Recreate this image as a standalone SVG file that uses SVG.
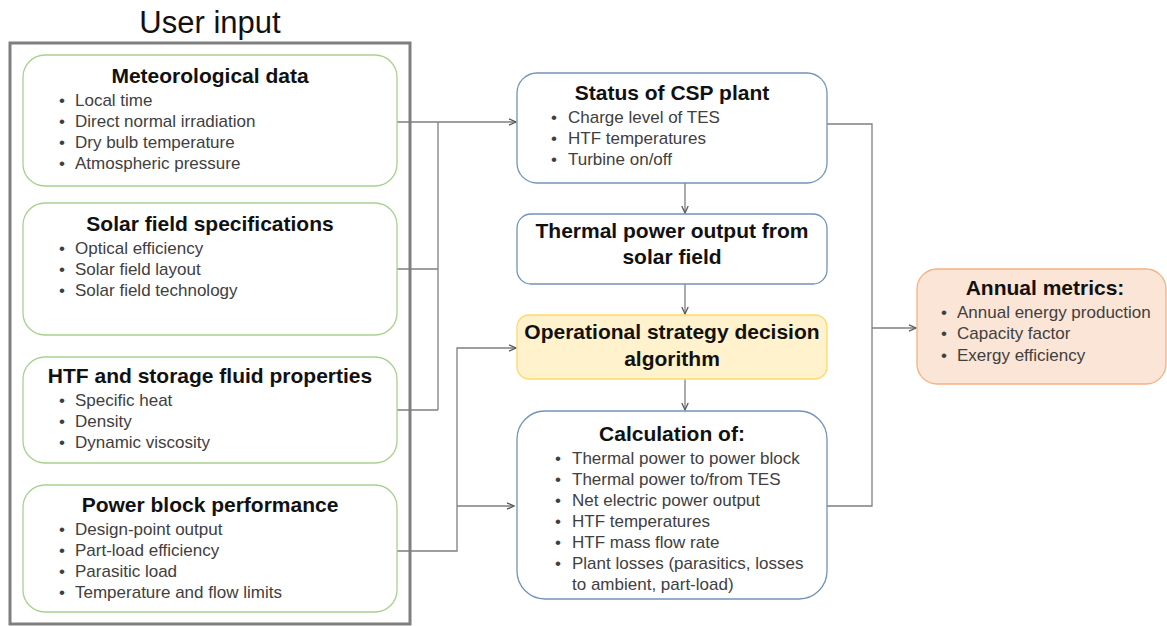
<svg xmlns="http://www.w3.org/2000/svg" width="1167" height="626" viewBox="0 0 1167 626">
<style>
.t{font-family:"Liberation Sans",Arial,sans-serif;font-size:21px;font-weight:bold;fill:#111;text-anchor:middle}
.i{font-family:"Liberation Sans",Arial,sans-serif;font-size:17px;fill:#404040}
.g{fill:#fff;stroke:#a9d18e;stroke-width:1.3}
.b{fill:#fff;stroke:#7393b8;stroke-width:1.3}
.c{fill:none;stroke:#7f7f7f;stroke-width:1.3}
</style>
<defs>
<marker id="ar" markerWidth="10" markerHeight="10" refX="8" refY="4" orient="auto" markerUnits="userSpaceOnUse">
<path d="M1,0.8 L8,4 L1,7.2" fill="none" stroke="#595959" stroke-width="1.3"/>
</marker>
</defs>
<rect width="1167" height="626" fill="#fff"/>

<g id="user-input">
<text x="210" y="33" font-family="Liberation Sans,Arial,sans-serif" font-size="31" fill="#111" text-anchor="middle">User input</text>
<rect x="10" y="43" width="400" height="581" fill="none" stroke="#7f7f7f" stroke-width="3"/>
</g>

<g id="connectors">
<path class="c" d="M397,122 H516" marker-end="url(#ar)"/>
<path class="c" d="M438,122 V410"/>
<path class="c" d="M397,269 H438"/>
<path class="c" d="M397,410 H438"/>
<path class="c" d="M397,551 H457 V348 H516" marker-end="url(#ar)"/>
<path class="c" d="M457,506 H514" marker-end="url(#ar)"/>
<path class="c" d="M685,183 V213" marker-end="url(#ar)"/>
<path class="c" d="M685,284 V314" marker-end="url(#ar)"/>
<path class="c" d="M685,379 V410" marker-end="url(#ar)"/>
<path class="c" d="M827,124 H872 V506 H827"/>
<path class="c" d="M872,328 H916" marker-end="url(#ar)"/>
</g>

<g id="meteorological-data">
<rect class="g" x="23" y="55" width="374" height="131" rx="22"/>
<text class="t" x="210" y="83">Meteorological data</text>
<text class="i"><tspan x="59" y="106">•</tspan><tspan x="75" y="106">Local time</tspan><tspan x="59" y="127">•</tspan><tspan x="75" y="127">Direct normal irradiation</tspan><tspan x="59" y="148">•</tspan><tspan x="75" y="148">Dry bulb temperature</tspan><tspan x="59" y="169">•</tspan><tspan x="75" y="169">Atmospheric pressure</tspan></text>
</g>

<g id="solar-field-specifications">
<rect class="g" x="23" y="203" width="374" height="132" rx="22"/>
<text class="t" x="210" y="231">Solar field specifications</text>
<text class="i"><tspan x="59" y="254">•</tspan><tspan x="75" y="254">Optical efficiency</tspan><tspan x="59" y="275">•</tspan><tspan x="75" y="275">Solar field layout</tspan><tspan x="59" y="296">•</tspan><tspan x="75" y="296">Solar field technology</tspan></text>
</g>

<g id="htf-properties">
<rect class="g" x="23" y="357" width="374" height="106" rx="22"/>
<text class="t" x="210" y="383">HTF and storage fluid properties</text>
<text class="i"><tspan x="59" y="406">•</tspan><tspan x="75" y="406">Specific heat</tspan><tspan x="59" y="427">•</tspan><tspan x="75" y="427">Density</tspan><tspan x="59" y="448">•</tspan><tspan x="75" y="448">Dynamic viscosity</tspan></text>
</g>

<g id="power-block-performance">
<rect class="g" x="23" y="485" width="374" height="127" rx="22"/>
<text class="t" x="210" y="512">Power block performance</text>
<text class="i"><tspan x="59" y="535">•</tspan><tspan x="75" y="535">Design-point output</tspan><tspan x="59" y="556">•</tspan><tspan x="75" y="556">Part-load efficiency</tspan><tspan x="59" y="577">•</tspan><tspan x="75" y="577">Parasitic load</tspan><tspan x="59" y="598">•</tspan><tspan x="75" y="598">Temperature and flow limits</tspan></text>
</g>

<g id="status-csp-plant">
<rect class="b" x="517" y="73" width="310" height="110" rx="20"/>
<text class="t" x="672" y="100">Status of CSP plant</text>
<text class="i"><tspan x="551" y="123">•</tspan><tspan x="568" y="123">Charge level of TES</tspan><tspan x="551" y="144">•</tspan><tspan x="568" y="144">HTF temperatures</tspan><tspan x="551" y="165">•</tspan><tspan x="568" y="165">Turbine on/off</tspan></text>
</g>

<g id="thermal-power-output">
<rect class="b" x="517" y="214" width="310" height="70" rx="14"/>
<text class="t" x="672" y="238">Thermal power output from</text>
<text class="t" x="672" y="264">solar field</text>
</g>

<g id="operational-strategy">
<rect x="517" y="315" width="310" height="64" rx="12" fill="#fff2cc" stroke="#ffd966" stroke-width="1.3"/>
<text class="t" x="672" y="339">Operational strategy decision</text>
<text class="t" x="672" y="366">algorithm</text>
</g>

<g id="calculation">
<rect class="b" x="517" y="411" width="310" height="188" rx="28"/>
<text class="t" x="672" y="441">Calculation of:</text>
<text class="i"><tspan x="555" y="464">•</tspan><tspan x="572" y="464">Thermal power to power block</tspan><tspan x="555" y="485">•</tspan><tspan x="572" y="485">Thermal power to/from TES</tspan><tspan x="555" y="506">•</tspan><tspan x="572" y="506">Net electric power output</tspan><tspan x="555" y="527">•</tspan><tspan x="572" y="527">HTF temperatures</tspan><tspan x="555" y="548">•</tspan><tspan x="572" y="548">HTF mass flow rate</tspan><tspan x="555" y="569">•</tspan><tspan x="572" y="569">Plant losses (parasitics, losses</tspan><tspan x="572" y="590">to ambient, part-load)</tspan></text>
</g>

<g id="annual-metrics">
<rect x="917" y="269" width="249" height="115" rx="20" fill="#fbe5d6" stroke="#f4b183" stroke-width="1.3"/>
<text class="t" x="1045" y="295">Annual metrics:</text>
<text class="i"><tspan x="941" y="318">•</tspan><tspan x="957" y="318">Annual energy production</tspan><tspan x="941" y="339">•</tspan><tspan x="957" y="339">Capacity factor</tspan><tspan x="941" y="361">•</tspan><tspan x="957" y="361">Exergy efficiency</tspan></text>
</g>
</svg>
